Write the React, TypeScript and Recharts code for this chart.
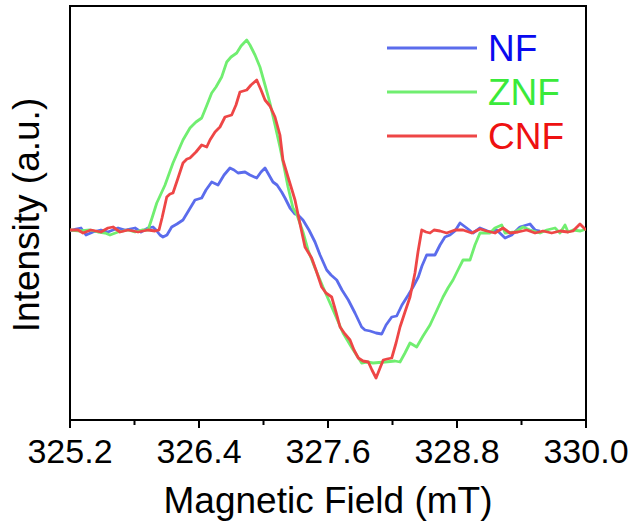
import React from "react";
import {
  LineChart,
  Line,
  XAxis,
  YAxis,
  Legend,
  ReferenceArea,
  Label,
} from "recharts";

// EPR spectra (field in mT, intensity in a.u.)
const nfField = [
  325.2, 325.256, 325.302, 325.349, 325.414, 325.488, 325.553, 325.647, 325.712,
  325.805, 325.86, 325.926, 325.972, 326.0, 326.037, 326.065, 326.102, 326.146,
  326.195, 326.251, 326.307, 326.363, 326.425, 326.465, 326.518, 326.577,
  326.633, 326.688, 326.726, 326.763, 326.828, 326.874, 326.937, 326.977,
  327.014, 327.051, 327.088, 327.126, 327.169, 327.2, 327.247, 327.293, 327.321,
  327.367, 327.423, 327.479, 327.526, 327.588, 327.628, 327.681, 327.73,
  327.789, 327.851, 327.913, 327.944, 327.991, 328.047, 328.1, 328.14, 328.193,
  328.239, 328.288, 328.347, 328.391, 328.44, 328.474, 328.518, 328.558,
  328.595, 328.642, 328.688, 328.735, 328.781, 328.828, 328.89, 328.949,
  329.014, 329.107, 329.169, 329.247, 329.309, 329.386, 329.479, 329.526,
  329.572,
];
const nfIntensity = [
  -1, 1, 2, -5, -2, 0, -2, 2, 0, 2, -2, 2, 3, 0, -5, -7, -5, 3, 6, 10, 20, 30,
  32, 40, 48, 45, 55, 62, 60, 57, 58, 55, 52, 58, 62, 55, 48, 45, 38, 32, 22, 16,
  15, 10, 0, -12, -25, -40, -45, -50, -60, -70, -83, -97, -100, -101, -103,
  -104, -95, -87, -86, -75, -65, -57, -47, -36, -25, -25, -25, -15, -7, -5, -1,
  7, 2, -3, 2, -2, 0, -8, -5, 3, 6, 0, -1,
];

const znfField = [
  325.2, 325.293, 325.386, 325.46, 325.526, 325.572, 325.647, 325.74, 325.805,
  325.87, 325.926, 325.963, 326.007, 326.084, 326.158, 326.251, 326.316,
  326.372, 326.425, 326.474, 326.518, 326.558, 326.611, 326.658, 326.698,
  326.751, 326.791, 326.844, 326.874, 326.921, 326.967, 327.014, 327.06,
  327.107, 327.153, 327.191, 327.228, 327.274, 327.312, 327.367, 327.414,
  327.479, 327.553, 327.647, 327.74, 327.823, 327.913, 327.963, 328.019,
  328.13, 328.223, 328.27, 328.316, 328.363, 328.425, 328.484, 328.549,
  328.614, 328.67, 328.716, 328.763, 328.809, 328.856, 328.921, 328.967,
  329.014, 329.107, 329.153, 329.216, 329.247, 329.34, 329.414, 329.479,
  329.572, 329.635, 329.712, 329.758, 329.805, 329.833, 329.879, 329.949, 330.0,
];
const znfIntensity = [
  0, -1, 0, -2, -3, -5, -2, 0, -2, 0, 0, 12, 27, 45, 67, 90, 102, 108, 112, 125,
  137, 143, 153, 168, 173, 177, 184, 190, 185, 175, 163, 145, 127, 105, 83, 63,
  43, 22, 15, -2, -20, -38, -57, -80, -103, -118, -133, -132, -133, -132, -131,
  -132, -123, -113, -117, -106, -95, -80, -67, -58, -50, -40, -30, -30, -15, -3,
  -3, 2, 5, -3, -2, 3, 0, -3, 0, 2, -3, 5, -2, 0, -1, 1,
];

const cnfField = [
  325.2, 325.274, 325.321, 325.395, 325.488, 325.553, 325.6, 325.665, 325.74,
  325.833, 325.926, 325.991, 326.028, 326.056, 326.1, 326.13, 326.158, 326.205,
  326.251, 326.288, 326.316, 326.372, 326.425, 326.472, 326.502, 326.549,
  326.595, 326.642, 326.704, 326.744, 326.781, 326.844, 326.884, 326.937,
  326.977, 327.014, 327.06, 327.107, 327.153, 327.181, 327.228, 327.265,
  327.293, 327.34, 327.386, 327.448, 327.488, 327.541, 327.581, 327.634,
  327.674, 327.712, 327.758, 327.805, 327.842, 327.882, 327.926, 327.975,
  328.009, 328.047, 328.084, 328.114, 328.149, 328.193, 328.233, 328.27,
  328.316, 328.363, 328.409, 328.437, 328.472, 328.512, 328.549, 328.586,
  328.642, 328.704, 328.781, 328.856, 328.937, 329.014, 329.076, 329.153,
  329.228, 329.293, 329.367, 329.448, 329.526, 329.6, 329.681, 329.758,
  329.833, 329.879, 329.944, 330.0,
];
const cnfIntensity = [
  0, 0, -3, 0, -2, 2, 3, -2, 0, -2, 0, -1, 0, 12, 33, 36, 37, 52, 67, 71, 72, 78,
  85, 83, 90, 98, 103, 113, 115, 125, 138, 140, 145, 150, 140, 130, 124, 113,
  95, 70, 53, 40, 30, 6, -17, -28, -40, -57, -63, -67, -82, -97, -104, -110,
  -120, -128, -131, -132, -140, -148, -138, -130, -129, -128, -113, -97, -82,
  -67, -43, -22, 0, -2, -3, 0, -1, -3, 0, 0, -3, 1, -1, -3, 2, -3, -2, 0, -3,
  -1, -3, -1, -2, -1, 6, 0,
];

const majorTicks = [325.2, 326.4, 327.6, 328.8, 330.0];
const minorTicks = [325.8, 327.0, 328.2, 329.4];

const series = [
  { name: "NF", field: nfField, intensity: nfIntensity, line: "#5b6cec", text: "#0a0aef" },
  { name: "ZNF", field: znfField, intensity: znfIntensity, line: "#70ee70", text: "#3aea3a" },
  { name: "CNF", field: cnfField, intensity: cnfIntensity, line: "#ee4646", text: "#ee1111" },
];

const FONT = '"Liberation Sans", Arial, sans-serif';
const Y_MIN = -190;
const Y_MAX = 224;

const allTicks = [...majorTicks, ...minorTicks].sort((a, b) => a - b);

const FieldTick = (props: any) => {
  const { x, y, payload } = props;
  const isMajor = majorTicks.some((t) => Math.abs(t - payload.value) < 1e-6);
  return (
    <g>
      <line x1={x} x2={x} y1={y} y2={y + (isMajor ? 8 : 5)} stroke="#000" strokeWidth={2} />
      {isMajor && (
        <text x={x} y={y + 43} textAnchor="middle" fontSize={34} fontFamily={FONT} fill="#000">
          {payload.value.toFixed(1)}
        </text>
      )}
    </g>
  );
};

const renderLegend = () => (
  <svg width={240} height={140}>
    {series.map((s, i) => (
      <g key={s.name}>
        <line x1={7} x2={97} y1={28 + i * 44} y2={28 + i * 44} stroke={s.line} strokeWidth={3} />
        <text x={108} y={41 + i * 44} fontSize={37} fontFamily={FONT} fill={s.text}>
          {s.name}
        </text>
      </g>
    ))}
  </svg>
);

export default function App() {
  return (
    <div style={{ position: "absolute", left: 0, top: 0, width: 632, height: 528, background: "#fff" }}>
      <LineChart width={632} height={528} margin={{ top: 6, right: 46, left: 0, bottom: 8 }}>
        <XAxis
          dataKey="field"
          type="number"
          domain={[325.2, 330.0]}
          allowDataOverflow
          ticks={allTicks}
          interval={0}
          tick={<FieldTick />}
          tickLine={false}
          tickSize={0}
          tickMargin={0}
          height={100}
          axisLine={{ stroke: "#000", strokeWidth: 2 }}
        >
          <Label
            content={(p: any) => (
              <text
                x={p.viewBox.x + p.viewBox.width / 2}
                y={513}
                textAnchor="middle"
                fontSize={37}
                fontFamily={FONT}
                fill="#000"
              >
                Magnetic Field (mT)
              </text>
            )}
          />
        </XAxis>
        <YAxis
          type="number"
          domain={[Y_MIN, Y_MAX]}
          allowDataOverflow
          width={70}
          tick={false}
          tickLine={false}
          axisLine={false}
        >
          <Label
            content={() => (
              <text
                x={0}
                y={0}
                transform="translate(39 215) rotate(-90)"
                textAnchor="middle"
                fontSize={37}
                fontFamily={FONT}
                fill="#000"
              >
                Intensity (a.u.)
              </text>
            )}
          />
        </YAxis>
        {series.map((s) => (
          <Line
            key={s.name}
            name={s.name}
            data={s.field.map((f, i) => ({ field: f, intensity: s.intensity[i] }))}
            dataKey="intensity"
            type="linear"
            stroke={s.line}
            strokeWidth={2.8}
            strokeLinejoin="round"
            dot={false}
            activeDot={false}
            isAnimationActive={false}
          />
        ))}
        <ReferenceArea
          x1={325.2}
          x2={330.0}
          y1={Y_MIN}
          y2={Y_MAX}
          fill="none"
          stroke="#000"
          strokeWidth={2}
          ifOverflow="visible"
        />
        <Legend
          layout="vertical"
          align="center"
          verticalAlign="middle"
          content={renderLegend}
          wrapperStyle={{ position: "absolute", left: 380, top: 20, width: 240, height: 140 }}
        />
      </LineChart>
    </div>
  );
}
